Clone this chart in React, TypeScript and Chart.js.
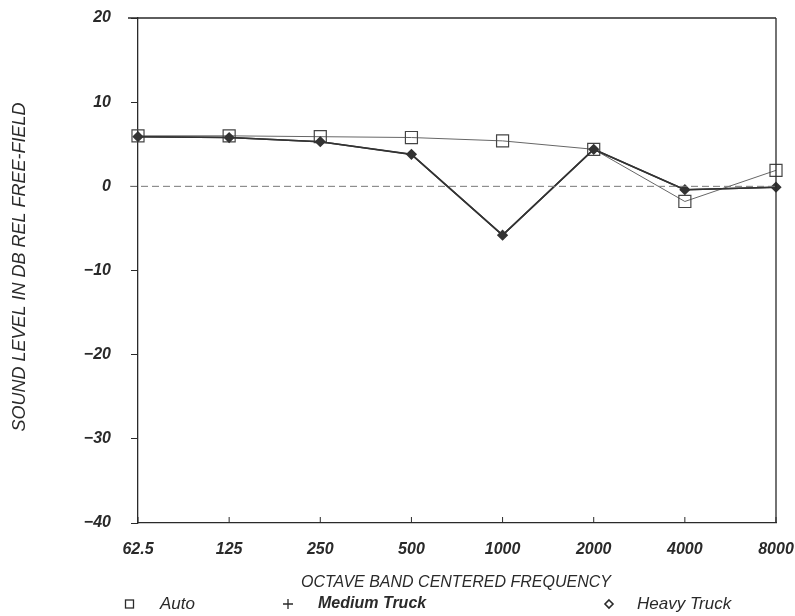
import React, { useEffect, useRef } from "react";
import { Chart, registerables } from "chart.js";

Chart.register(...registerables);

const categories = ["62.5", "125", "250", "500", "1000", "2000", "4000", "8000"];
const autoValues = [6.0, 6.0, 5.9, 5.8, 5.4, 4.4, -1.8, 1.9];
const mediumTruckValues = [5.9, 5.8, 5.3, 3.8, -5.8, 4.4, -0.4, -0.1];
const heavyTruckValues = [5.9, 5.8, 5.3, 3.8, -5.8, 4.4, -0.4, -0.1];
const yMin = -40;
const yMax = 20;
const yStep = 10;
const xTitle = "OCTAVE BAND CENTERED FREQUENCY";
const yTitle = "SOUND LEVEL IN DB REL FREE-FIELD";
const legendLabels = ["Auto", "Medium Truck", "Heavy Truck"];

const FONT = "'Liberation Sans', 'DejaVu Sans', sans-serif";
const INK = "#2a2a2a";

const decorPlugin = {
  id: "decor",
  afterDraw(chart: any) {
    const { ctx, chartArea } = chart;
    const { left, right, top, bottom } = chartArea;
    const y = chart.scales.y;
    const x = chart.scales.x;
    ctx.save();
    ctx.strokeStyle = INK;
    ctx.lineWidth = 1.3;
    ctx.beginPath();
    ctx.moveTo(left - 10, top);
    ctx.lineTo(right, top);
    ctx.moveTo(right, top);
    ctx.lineTo(right, bottom);
    ctx.stroke();
    const y0 = y.getPixelForValue(0);
    ctx.strokeStyle = "#777";
    ctx.lineWidth = 1;
    ctx.setLineDash([7, 4]);
    ctx.beginPath();
    ctx.moveTo(left - 8, y0);
    ctx.lineTo(right, y0);
    ctx.stroke();
    ctx.setLineDash([]);
    ctx.strokeStyle = INK;
    ctx.lineWidth = 1;
    for (let i = 0; i < categories.length; i++) {
      const px = x.getPixelForValue(i);
      ctx.beginPath();
      ctx.moveTo(px, bottom);
      ctx.lineTo(px, bottom - 6);
      ctx.stroke();
    }
    ctx.fillStyle = INK;
    ctx.font = `italic 16px ${FONT}`;
    ctx.textAlign = "center";
    ctx.textBaseline = "middle";
    ctx.fillText(xTitle, 456, 583);
    ctx.save();
    ctx.translate(20, 267);
    ctx.rotate(-Math.PI / 2);
    ctx.font = `italic 18px ${FONT}`;
    ctx.fillText(yTitle, 0, 0);
    ctx.restore();
    const ly = 604;
    ctx.textAlign = "left";
    ctx.lineWidth = 1.3;
    ctx.strokeRect(125.5, ly - 4, 8, 8);
    ctx.font = `italic 17px ${FONT}`;
    ctx.fillText(legendLabels[0], 160, ly);
    ctx.beginPath();
    ctx.moveTo(283, ly);
    ctx.lineTo(293, ly);
    ctx.moveTo(288, ly - 5);
    ctx.lineTo(288, ly + 5);
    ctx.stroke();
    ctx.font = `italic bold 16px ${FONT}`;
    ctx.fillText(legendLabels[1], 318, ly);
    ctx.lineWidth = 1.6;
    ctx.beginPath();
    ctx.moveTo(609, ly - 4);
    ctx.lineTo(613, ly);
    ctx.lineTo(609, ly + 4);
    ctx.lineTo(605, ly);
    ctx.closePath();
    ctx.stroke();
    ctx.font = `italic 17px ${FONT}`;
    ctx.fillText(legendLabels[2], 637, ly);
    ctx.restore();
  },
};

export default function App() {
  const ref = useRef<HTMLCanvasElement | null>(null);
  useEffect(() => {
    if (!ref.current) return;
    const chart = new Chart(ref.current, {
      type: "line",
      data: {
        labels: categories,
        datasets: [
          {
            label: legendLabels[1],
            data: mediumTruckValues,
            borderColor: "#333",
            borderWidth: 1.5,
            pointStyle: "cross",
            pointRadius: 4,
            pointBorderColor: "#333",
            pointBorderWidth: 1.5,
          },
          {
            label: legendLabels[2],
            data: heavyTruckValues,
            borderColor: "#333",
            borderWidth: 1.6,
            pointStyle: "rectRot",
            pointRadius: 4.5,
            pointBackgroundColor: "#333",
            pointBorderColor: "#333",
          },
          {
            label: legendLabels[0],
            data: autoValues,
            borderColor: "#666",
            borderWidth: 1,
            pointStyle: "rect",
            pointRadius: 8.5,
            pointBackgroundColor: "rgba(255,255,255,0)",
            pointBorderColor: "#444",
            pointBorderWidth: 1.2,
          },
        ],
      },
      options: {
        responsive: false,
        animation: false,
        layout: { padding: { left: 0, right: 19, top: 18, bottom: 0 } },
        plugins: { legend: { display: false }, tooltip: { enabled: false } },
        scales: {
          x: {
            type: "category",
            offset: false,
            grid: { display: true, drawOnChartArea: false, drawTicks: false },
            border: { display: true, color: INK, width: 1.3 },
            ticks: {
              color: INK,
              padding: 17,
              maxRotation: 0,
              autoSkip: false,
              font: { family: FONT, size: 16, style: "italic", weight: "bold" },
            },
            afterFit: (s: any) => {
              s.height = 93;
              s.paddingLeft = 0;
              s.paddingRight = 0;
            },
          },
          y: {
            min: yMin,
            max: yMax,
            ticks: {
              stepSize: yStep,
              color: INK,
              padding: 20,
              font: { family: FONT, size: 16, style: "italic", weight: "bold" },
              callback: (v: any) => String(v).replace("-", "\u2212"),
            },
            grid: { display: true, drawOnChartArea: false, drawTicks: true, tickLength: 7, tickColor: INK },
            border: { display: true, color: INK, width: 1.3 },
            afterFit: (s: any) => {
              s.width = 138;
              s.paddingTop = 0;
              s.paddingBottom = 0;
            },
          },
        },
      },
      plugins: [decorPlugin],
    });
    return () => chart.destroy();
  }, []);
  return (
    <div style={{ position: "fixed", left: 0, top: 0, width: 795, height: 616, background: "#fff" }}>
      <canvas ref={ref} width={795} height={616} />
    </div>
  );
}
